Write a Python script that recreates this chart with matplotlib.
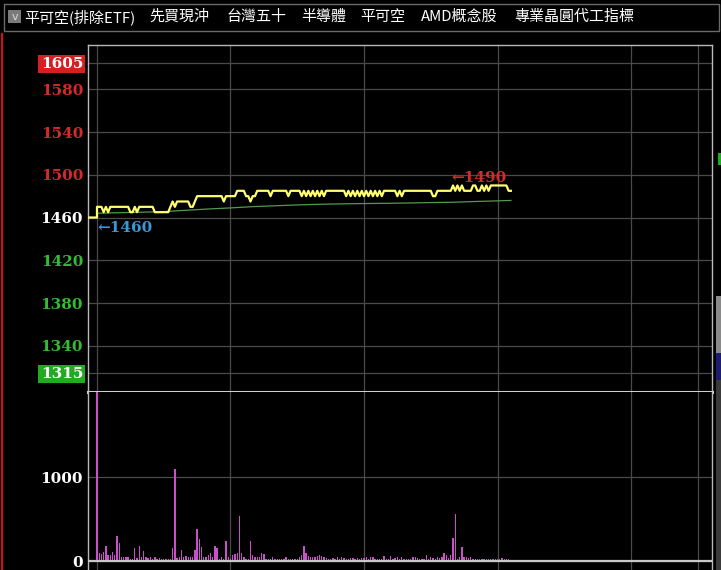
import matplotlib
matplotlib.use('Agg')
import matplotlib.pyplot as plt
import matplotlib.patches as patches
import numpy as np

# ---- data (minutes after 09:00) ----
open_price = 1460
price = [
    1470, 1470, 1470, 1465, 1470, 1465, 1470, 1470, 1470, 1470,
    1470, 1470, 1470, 1470, 1470, 1465, 1465, 1470, 1465, 1470,
    1470, 1470, 1470, 1470, 1470, 1470, 1465, 1465, 1465, 1465,
    1465, 1465, 1465, 1470, 1475, 1470, 1475, 1475, 1475, 1475,
    1475, 1475, 1470, 1470, 1475, 1480, 1480, 1480, 1480, 1480,
    1480, 1480, 1480, 1480, 1480, 1480, 1480, 1475, 1480, 1480,
    1480, 1480, 1480, 1485, 1485, 1485, 1485, 1480, 1480, 1475,
    1480, 1480, 1485, 1485, 1485, 1485, 1485, 1485, 1480, 1485,
    1485, 1485, 1485, 1485, 1485, 1485, 1480, 1485, 1485, 1485,
    1485, 1485, 1480, 1485, 1480, 1485, 1480, 1485, 1480, 1485,
    1480, 1485, 1480, 1485, 1485, 1485, 1485, 1485, 1485, 1485,
    1485, 1485, 1480, 1485, 1480, 1485, 1480, 1485, 1480, 1485,
    1480, 1485, 1480, 1485, 1480, 1485, 1480, 1485, 1480, 1485,
    1485, 1485, 1485, 1485, 1485, 1480, 1485, 1480, 1485, 1485,
    1485, 1485, 1485, 1485, 1485, 1485, 1485, 1485, 1485, 1485,
    1485, 1480, 1480, 1485, 1485, 1485, 1485, 1485, 1485, 1485,
    1490, 1485, 1490, 1485, 1490, 1485, 1485, 1485, 1485, 1490,
    1490, 1485, 1485, 1490, 1485, 1490, 1485, 1490, 1490, 1490,
    1490, 1490, 1490, 1490, 1490, 1485, 1485,
]
avg_t = [0, 10, 20, 30, 40, 50, 60, 70, 80, 90, 100, 110, 120, 130, 140, 150, 160, 170, 180, 186]
avg_p = [1464, 1464.5, 1465, 1465.5, 1466.8, 1468, 1469, 1470.2, 1471, 1471.8,
         1472.4, 1472.8, 1473.1, 1473.3, 1473.6, 1474, 1474.3, 1475, 1475.6, 1476]
volume = [
    2500, 91, 79, 111, 179, 71, 71, 103, 71, 298,
    218, 52, 52, 52, 52, 24, 24, 159, 32, 179,
    52, 119, 44, 32, 52, 24, 44, 24, 36, 24,
    24, 24, 20, 20, 151, 1091, 32, 44, 131, 44,
    60, 52, 52, 52, 131, 377, 258, 171, 52, 52,
    71, 91, 44, 179, 151, 24, 52, 24, 242, 52,
    24, 71, 83, 91, 536, 91, 52, 24, 24, 242,
    71, 52, 44, 44, 91, 79, 20, 20, 24, 44,
    24, 24, 24, 24, 24, 52, 24, 24, 24, 24,
    24, 52, 71, 179, 91, 60, 44, 44, 52, 60,
    71, 60, 44, 32, 24, 24, 32, 24, 44, 24,
    52, 32, 24, 24, 32, 32, 24, 32, 24, 32,
    32, 44, 24, 44, 44, 24, 24, 24, 20, 63,
    20, 24, 60, 24, 32, 44, 20, 52, 24, 20,
    20, 24, 44, 52, 36, 24, 20, 24, 67, 24,
    44, 32, 24, 52, 32, 44, 91, 71, 32, 71,
    270, 560, 24, 52, 163, 44, 52, 32, 44, 20,
    20, 20, 20, 20, 20, 20, 20, 24, 20, 20,
    24, 20, 32, 24, 20, 20,
]
price_ticks = [1605, 1580, 1540, 1500, 1460, 1420, 1380, 1340, 1315]
price_tick_colors = ['white', '#d42a2a', '#d42a2a', '#d42a2a', 'white',
                     '#33bb33', '#33bb33', '#33bb33', 'white']
vol_ticks = [0, 1000]
time_grid = [0, 60, 120, 180, 240, 270]
tabs = ['平可空(排除ETF)', '先買現沖', '台灣五十', '半導體', '平可空', 'AMD概念股', '專業晶圓代工指標']
tab_x = [24, 149, 226, 301, 360, 421, 514]

W, H = 721, 570
fig = plt.figure(figsize=(W / 100, H / 100), dpi=100, facecolor='black')

def fx(x):
    return x / W

def fy(y):
    return 1 - y / H

XMIN, XMAX = -4.04, 276.4
lbl_font = dict(family=['DejaVu Serif', 'DejaVu Sans'], fontweight='bold', fontsize=11)

# ---- price panel ----
ax = fig.add_axes([fx(88), fy(392), fx(712) - fx(88), (392 - 45) / H])
ax.set_facecolor('black')
ax.set_xlim(XMIN, XMAX)
ax.set_ylim(1296.8, 1621.4)
ax.set_xticks(time_grid)
ax.set_xticklabels([])
ax.set_yticks(price_ticks)
ax.set_yticklabels([str(v) for v in price_ticks], **lbl_font)
ax.tick_params(length=0, pad=3.5)
ax.grid(True, color='#4a4a4a', linewidth=0.9)
for lab, c in zip(ax.get_yticklabels(), price_tick_colors):
    lab.set_color(c)
lbls = ax.get_yticklabels()
lbls[0].set_bbox(dict(facecolor='#d42020', edgecolor='none', pad=1.6))
lbls[-1].set_bbox(dict(facecolor='#22aa22', edgecolor='none', pad=1.6))
for s in ['left', 'top', 'right']:
    ax.spines[s].set_color('#b8b8b8')
    ax.spines[s].set_linewidth(1.0)
ax.spines['bottom'].set_color('#cfcfcf')
ax.spines['bottom'].set_linewidth(2.2)

t = np.arange(len(price))
ax.plot(avg_t, avg_p, color='#4f9a4f', linewidth=0.9, zorder=3)
ax.plot(np.r_[XMIN, 0, t], np.r_[open_price, open_price, price],
        color='#ffff70', linewidth=1.6, zorder=4)

hi = int(np.argmax(price))
ax.text(0, open_price - 10, '←' + str(open_price), color='#3a97d8',
        ha='left', va='center', **lbl_font)
ax.text(hi - 0.5, max(price) + 7, '←' + str(max(price)), color='#d42a2a',
        ha='left', va='center', **lbl_font)

# ---- volume panel ----
axv = fig.add_axes([fx(88), 0, fx(712) - fx(88), 178 / H])
axv.set_facecolor('black')
axv.set_xlim(XMIN, XMAX)
axv.set_ylim(-107, 2012)
axv.bar(np.arange(len(volume)), volume, width=0.6, color='#c850c8', linewidth=0, zorder=3)
axv.set_xticks(time_grid)
axv.set_xticklabels([])
axv.set_yticks(vol_ticks)
axv.set_yticklabels([str(v) for v in vol_ticks], color='white', **lbl_font)
axv.tick_params(length=0, pad=3.5)
axv.grid(True, color='#4a4a4a', linewidth=0.9)
axv.axhline(0, color='#c8c8c8', linewidth=1.6, zorder=4)
axv.spines['top'].set_visible(False)
axv.spines['bottom'].set_visible(False)
for s in ['left', 'right']:
    axv.spines[s].set_color('#b8b8b8')
    axv.spines[s].set_linewidth(1.0)

# ---- top tab bar and frame ----
fig.patches.append(patches.Rectangle((fx(4), fy(31)), fx(715), 27 / H, transform=fig.transFigure,
                                     facecolor='black', edgecolor='#6a6a6a', linewidth=1.0))
fig.patches.append(patches.Rectangle((fx(8), fy(23)), fx(13), 13 / H, transform=fig.transFigure,
                                     facecolor='#7a7a7a', edgecolor='none'))
fig.text(fx(14.5), fy(16.5), 'v', color='#d8d8d8', fontsize=8, ha='center', va='center')
for name, x in zip(tabs, tab_x):
    fig.text(fx(x), fy(17), name, color='white', fontsize=10.8, ha='left', va='center',
             family=['Noto Sans CJK TC', 'DejaVu Sans'])
fig.add_artist(plt.Line2D([fx(1.5), fx(1.5)], [fy(34), 0], transform=fig.transFigure,
                          color='#c01818', linewidth=1.6))

# cut-off side panel at the right edge
fig.patches.append(patches.Rectangle((fx(716), fy(353)), fx(5), 57 / H, transform=fig.transFigure,
                                     facecolor='#8a8a8a', edgecolor='none'))
fig.patches.append(patches.Rectangle((fx(716), fy(380)), fx(5), 27 / H, transform=fig.transFigure,
                                     facecolor='#1c1c70', edgecolor='none'))
fig.patches.append(patches.Rectangle((fx(716), 0), fx(5), 190 / H, transform=fig.transFigure,
                                     facecolor='#3a3a3a', edgecolor='none'))
fig.patches.append(patches.Rectangle((fx(718), fy(165)), fx(3), 12 / H, transform=fig.transFigure,
                                     facecolor='#22aa22', edgecolor='none'))

fig.savefig('out.png', dpi=100, facecolor='black')
